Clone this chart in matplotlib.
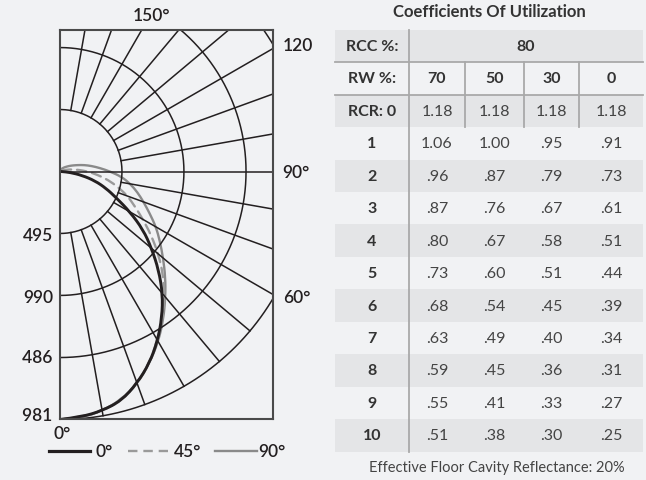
import numpy as np
from matplotlib import pyplot as plt
from matplotlib.path import Path
from matplotlib.patches import PathPatch
from matplotlib.transforms import Bbox, TransformedBbox

plt.rcParams['font.family'] = ['Lato', 'DejaVu Sans']

# candela values, vertical angle from nadir
angles = np.arange(0, 181, 5)
cd_0 = [1981, 1968, 1940, 1895, 1800, 1690, 1560, 1420, 1275, 1115, 955, 810, 645, 495, 390, 290, 180, 80, 10,
        0, 0, 0, 0, 0, 0, 0, 0, 0, 0, 0, 0, 0, 0, 0, 0, 0, 0]
cd_45 = [1981, 1970, 1942, 1892, 1805, 1690, 1555, 1430, 1300, 1165, 1025, 890, 765, 660, 575, 480, 390, 300, 220,
         150, 95, 55, 30, 15, 8, 0, 0, 0, 0, 0, 0, 0, 0, 0, 0, 0, 0]
cd_90 = [1981, 1975, 1940, 1888, 1800, 1690, 1570, 1440, 1310, 1190, 1075, 975, 885, 790, 710, 640, 570, 495, 400,
         320, 255, 200, 150, 115, 90, 70, 55, 45, 35, 28, 20, 15, 10, 6, 3, 1, 0]
ring_values = [495, 990, 1486, 1981]
ring_labels = ['495', '990', '1486', '1981']

# coefficients of utilization
rcc = '80'
rw = ['70', '50', '30', '0']
row_labels = ['RCR: 0', '1', '2', '3', '4', '5', '6', '7', '8', '9', '10']
cu_70 = [1.18, 1.06, .96, .87, .80, .73, .68, .63, .59, .55, .51]
cu_50 = [1.18, 1.00, .87, .76, .67, .60, .54, .49, .45, .41, .38]
cu_30 = [1.18, .95, .79, .67, .58, .51, .45, .40, .36, .33, .30]
cu_0 = [1.18, .91, .73, .61, .51, .44, .39, .34, .31, .27, .25]

BG = '#f1f2f4'
SHADE = '#e4e5e7'
INK = '#231f20'
W, H = 646, 481

fig = plt.figure(figsize=(W / 100, H / 100), dpi=100, facecolor=BG)
ax = fig.add_axes([0, 0, 1, 1])
ax.set_xlim(0, W)
ax.set_ylim(H, 0)
ax.axis('off')

# --- photometric plot (rectangular frame, origin at left edge) ---
rmax = ring_values[-1] * 1.0
px = 248 / rmax  # pixels per candela
box_l, box_r, box_t, box_b = 60, 273, 31, 420
oy = 172.5
pax = fig.add_axes([box_l / W, (H - box_b) / H, (box_r - box_l) / W, (box_b - box_t) / H])
pax.set_xlim(0, (box_r - box_l) / px)
pax.set_ylim(-(box_b - oy) / px, (oy - box_t) / px)
pax.set_facecolor(BG)
pax.set_xticks([])
pax.set_yticks([])
for s in pax.spines.values():
    s.set_color('#4a4a4a')
    s.set_linewidth(1.5)


def to_xy(theta_deg, r):
    t = np.radians(theta_deg)
    r = np.asarray(r, dtype=float)
    return r * np.sin(t), -r * np.cos(t)


def smooth_curve(theta_deg, r, **kw):
    # quadratic bezier through midpoints so the candela curve looks smooth
    x, y = to_xy(theta_deg, r)
    pts = np.column_stack([x, y])
    verts = [pts[0]]
    codes = [Path.MOVETO]
    for i in range(1, len(pts) - 1):
        verts += [pts[i], (pts[i] + pts[i + 1]) / 2]
        codes += [Path.CURVE3, Path.CURVE3]
    verts.append(pts[-1])
    codes.append(Path.LINETO)
    pax.add_patch(PathPatch(Path(verts, codes), fill=False, capstyle='round', **kw))


th = np.linspace(0, 180, 361)
for rv in ring_values:
    x, y = to_xy(th, np.full_like(th, rv))
    pax.plot(x, y, color=INK, lw=1.1)
for a in range(10, 180, 10):
    r0 = 0 if a == 90 else ring_values[0]
    x, y = to_xy(np.array([a, a]), [r0, rmax * 1.2 if a == 90 else rmax])
    pax.plot(x, y, color=INK, lw=1.1)

smooth_curve(angles, cd_90, edgecolor='#8a8a8a', lw=1.7)
smooth_curve(angles, cd_45, edgecolor='#9a9a9a', lw=1.7, linestyle=(0, (4, 2.5)))
smooth_curve(angles, cd_0, edgecolor=INK, lw=2.1)

lab = dict(fontsize=12.5, color=INK, fontweight='semibold', va='center')
ax.text(151, 16, '150°', ha='center', **lab)
ax.text(283, 46, '120', ha='left', **lab)
ax.text(282, 173, '90°', ha='left', **lab)
ax.text(283, 298, '60°', ha='left', **lab)
ax.text(198, 403, '30°', ha='center', **lab)
ax.text(53, 434, '0°', ha='left', **lab)

clip = TransformedBbox(Bbox.from_extents(22, 0, W, H), ax.transData)
for lbl, yy in zip(ring_labels, [236, 298, 358, 416]):
    t = ax.text(53, yy, lbl, ha='right', **lab)
    t.set_clip_box(clip)
    t.set_clip_on(True)

# legend
ax.plot([49, 90], [452, 452], color=INK, lw=2.3)
ax.text(95, 452, '0°', ha='left', **lab)
ax.plot([128, 168], [452, 452], color='#9a9a9a', lw=1.7, dashes=(4, 2.5))
ax.text(174, 452, '45°', ha='left', **lab)
ax.plot([215, 257], [452, 452], color='#8a8a8a', lw=1.7)
ax.text(258, 452, '90°', ha='left', **lab)

# --- table ---
t_l, t_r, t_top = 335, 643, 30.7
rh = 32.45
col_edges = [409, 465, 524, 579, 643]
n_rows = 2 + len(row_labels)

ax.text(489, 12, 'Coefficients Of Utilization', ha='center', va='center',
        fontsize=12, fontweight='bold', color='#333333')

for i in range(n_rows):
    if i % 2 == 0:
        ax.add_patch(plt.Rectangle((t_l, t_top + i * rh), t_r - t_l, rh, color=SHADE, lw=0))

line = dict(color='#a9a9a9', lw=1.3)
ax.plot([col_edges[0], col_edges[0]], [t_top, t_top + n_rows * rh], **line)
for k in (1, 2):
    ax.plot([t_l, t_r], [t_top + k * rh, t_top + k * rh], **line)
for xe in col_edges[1:-1]:
    ax.plot([xe, xe], [t_top + rh, t_top + 3 * rh], **line)

cen = [(col_edges[j] + col_edges[j + 1]) / 2 for j in range(4)]
lab_x = (t_l + col_edges[0]) / 2
bold = dict(fontsize=11.5, fontweight='bold', color='#333333', ha='center', va='center')
reg = dict(fontsize=11.5, color='#444444', ha='center', va='center')

ax.text(lab_x, t_top + 0.5 * rh, 'RCC %:', **bold)
ax.text((col_edges[0] + t_r) / 2, t_top + 0.5 * rh, rcc, **bold)
ax.text(lab_x, t_top + 1.5 * rh, 'RW %:', **bold)
for c, v in zip(cen, rw):
    ax.text(c, t_top + 1.5 * rh, v, **bold)


def fmt(v):
    s = f'{v:.2f}'
    return s[1:] if v < 1 else s


for i, name in enumerate(row_labels):
    yy = t_top + (i + 2.5) * rh
    ax.text(lab_x, yy, name, **bold)
    for c, col in zip(cen, [cu_70, cu_50, cu_30, cu_0]):
        ax.text(c, yy, fmt(col[i]), **reg)

ax.text(497, 468, 'Effective Floor Cavity Reflectance: 20%', ha='center', va='center',
        fontsize=10.5, color='#444444')

fig.savefig('out.png', dpi=100, facecolor=BG)
